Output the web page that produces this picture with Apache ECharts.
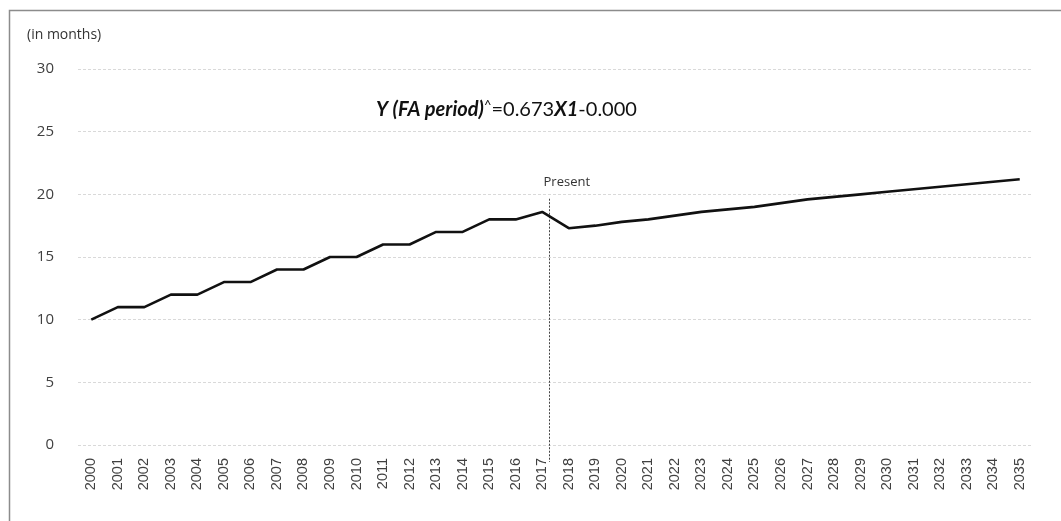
<!DOCTYPE html>
<html>
<head>
<meta charset="utf-8">
<style>
  html, body { margin: 0; padding: 0; background: #fff; }
  #chart { width: 1061px; height: 521px; }
</style>
<script src="https://cdn.jsdelivr.net/npm/echarts@6/dist/echarts.min.js"></script>
</head>
<body>
<div id="chart"></div>
<script>
// Years on the horizontal axis
const years = [
  '2000','2001','2002','2003','2004','2005','2006','2007','2008','2009',
  '2010','2011','2012','2013','2014','2015','2016','2017','2018','2019',
  '2020','2021','2022','2023','2024','2025','2026','2027','2028','2029',
  '2030','2031','2032','2033','2034','2035'
];
// FA period in months (observed to 2017, projected afterwards)
const faPeriod = [
  10, 11, 11, 12, 12, 13, 13, 14, 14, 15,
  15, 16, 16, 17, 17, 18, 18, 18.6, 17.3, 17.5,
  17.8, 18.0, 18.3, 18.6, 18.8, 19.0, 19.3, 19.6, 19.8, 20.0,
  20.2, 20.4, 20.6, 20.8, 21.0, 21.2
];
// Value axis ticks
const yTicks = [0, 5, 10, 15, 20, 25, 30];
// Year marking the present
const presentYear = '2017';

const chart = echarts.init(document.getElementById('chart'), null, { renderer: 'canvas' });

const labelFont = '"Liberation Sans", Arial, sans-serif';
const textFont = '"Open Sans", Lato, sans-serif';
const eqFont = 'Lato, "Open Sans", sans-serif';

chart.setOption({
  animation: false,
  backgroundColor: '#fff',
  grid: { left: 78, right: 28, top: 69, bottom: 76 },
  xAxis: {
    type: 'category',
    data: years,
    boundaryGap: true,
    axisLine: { show: false },
    axisTick: { show: false },
    axisLabel: {
      rotate: 90,
      interval: 0,
      margin: 13,
      color: '#404040',
      fontFamily: labelFont,
      fontSize: 14.5
    }
  },
  yAxis: {
    type: 'value',
    min: yTicks[0],
    max: yTicks[yTicks.length - 1],
    interval: yTicks[1] - yTicks[0],
    axisLine: { show: false },
    axisTick: { show: false },
    axisLabel: {
      margin: 24,
      color: '#404040',
      fontFamily: textFont,
      fontSize: 15
    },
    splitLine: { lineStyle: { color: '#d9d9d9', type: [3, 2], width: 1 } }
  },
  series: [{
    type: 'line',
    data: faPeriod,
    symbol: 'none',
    lineStyle: { color: '#111', width: 2.6 }
  }]
});

// Annotations placed from the axes' own scales
const idx = years.indexOf(presentYear);
const base = chart.convertToPixel({ xAxisIndex: 0 }, idx);
const next = chart.convertToPixel({ xAxisIndex: 0 }, idx + 1);
const px = Math.round(base + (next - base) * 0.27) + 0.5;
const yTop = chart.convertToPixel({ yAxisIndex: 0 }, 19.65);
const yBot = chart.convertToPixel({ yAxisIndex: 0 }, 0) + 17;
const eqX = chart.convertToPixel({ xAxisIndex: 0 }, 11) - 7;
const eqY = chart.convertToPixel({ yAxisIndex: 0 }, 26.8);

chart.setOption({
  graphic: [
    {
      type: 'rect',
      shape: { x: 9.5, y: 10.5, width: 1100, height: 600 },
      style: { fill: 'none', stroke: '#8c8c8c', lineWidth: 1.5 },
      silent: true
    },
    {
      type: 'text',
      left: 27, top: 28,
      style: { text: '(in months)', font: '14px ' + textFont, fill: '#333' }
    },
    {
      type: 'line',
      shape: { x1: px, y1: yTop, x2: px, y2: yBot },
      style: { stroke: '#444', lineWidth: 1, lineDash: [2, 1.5] }
    },
    {
      type: 'text',
      x: px - 6, y: yTop - 23,
      style: { text: 'Present', font: '13px ' + textFont, fill: '#333' }
    },
    {
      type: 'text',
      x: eqX, y: eqY,
      style: {
        text: '{b|Y (FA period)}{s|^}{n|=0.673}{b|X1}{n|-0.000}',
        verticalAlign: 'middle',
        rich: {
          b: { font: 'italic bold 20px ' + eqFont, fill: '#111' },
          s: { font: '13px ' + eqFont, fill: '#111', verticalAlign: 'top', padding: [0, 0, 7, 0] },
          n: { font: '20px ' + eqFont, fill: '#111' }
        }
      }
    }
  ]
});
</script>
</body>
</html>
